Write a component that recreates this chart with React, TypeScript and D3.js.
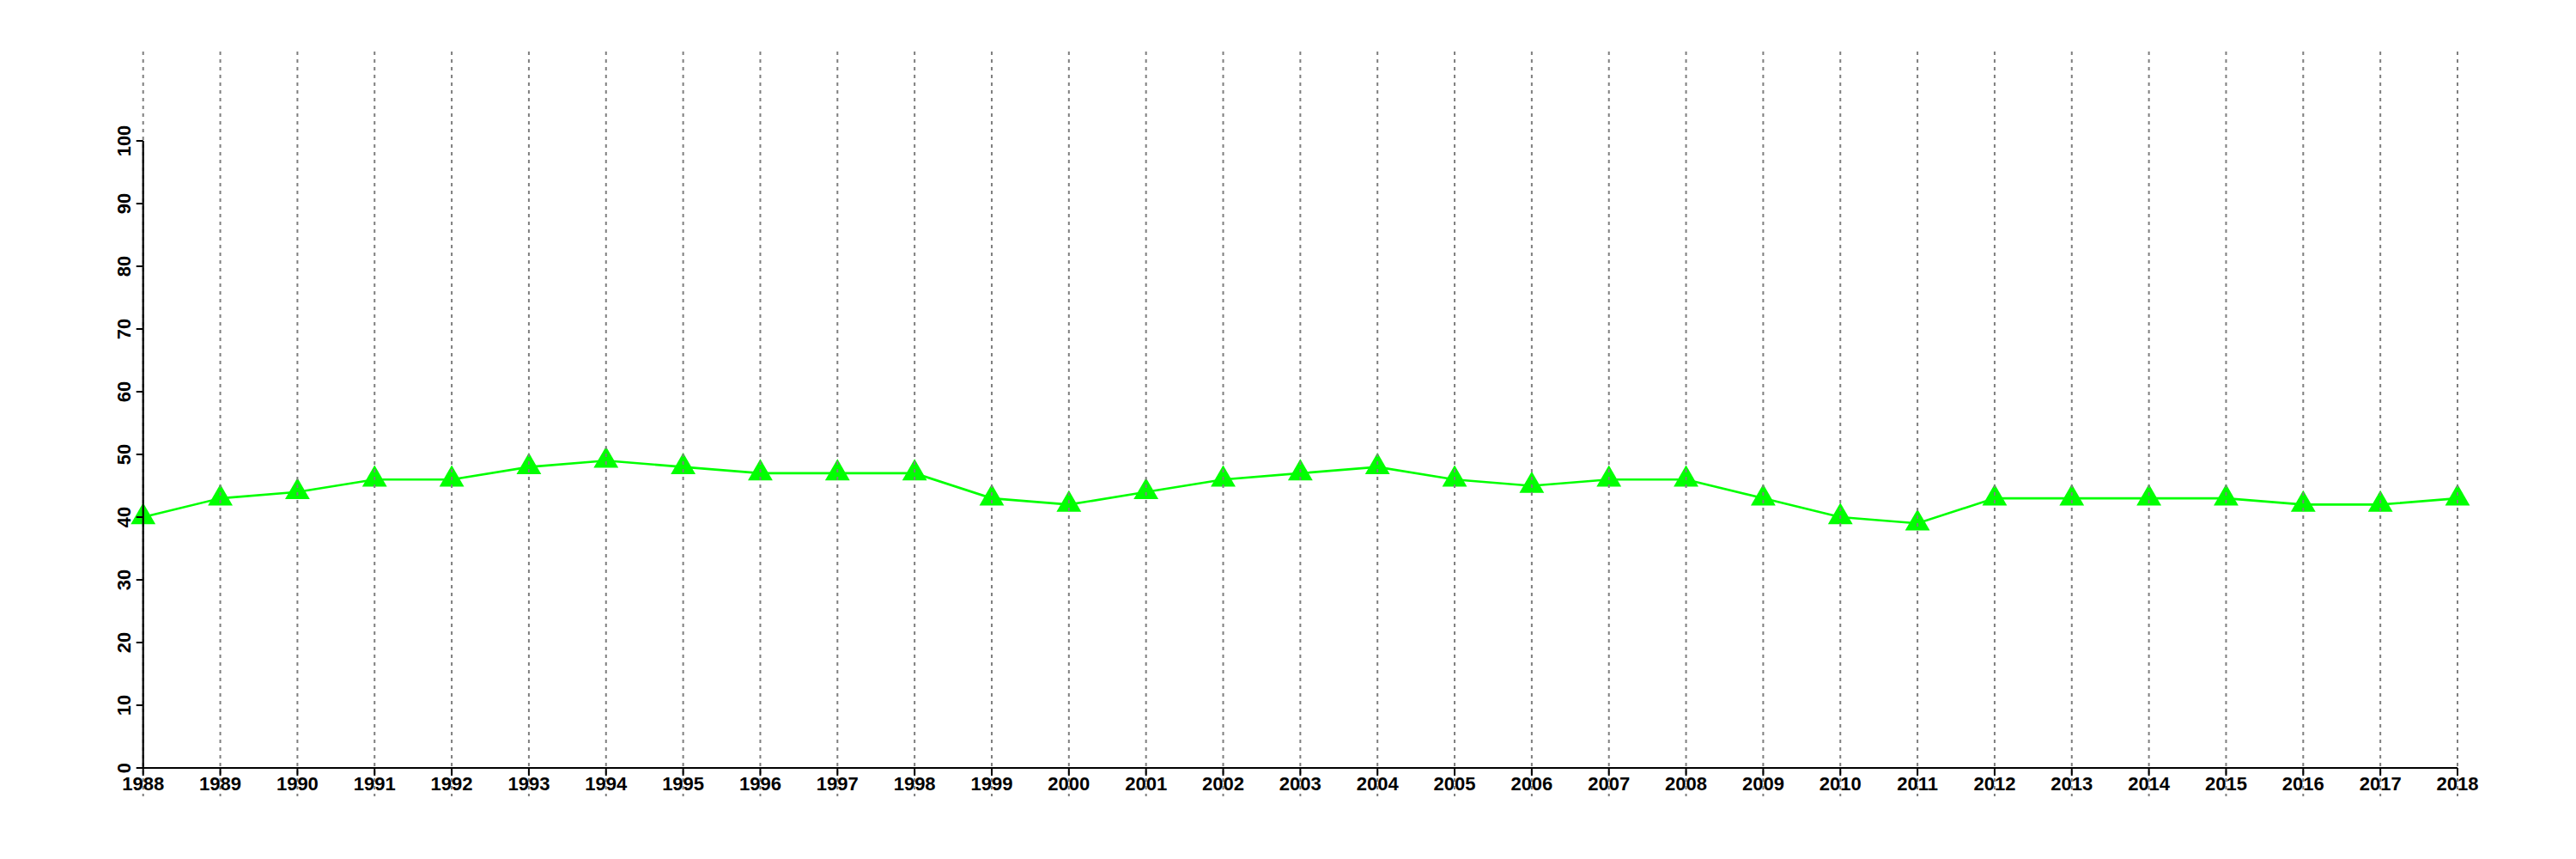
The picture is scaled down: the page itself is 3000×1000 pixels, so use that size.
import React from "react";
import * as d3 from "d3";

const years: number[] = [
  1988, 1989, 1990, 1991, 1992, 1993, 1994, 1995, 1996, 1997, 1998, 1999, 2000,
  2001, 2002, 2003, 2004, 2005, 2006, 2007, 2008, 2009, 2010, 2011, 2012, 2013,
  2014, 2015, 2016, 2017, 2018,
];
const values: number[] = [
  40, 43, 44, 46, 46, 48, 49, 48, 47, 47, 47, 43, 42, 44, 46, 47, 48, 46, 45, 46,
  46, 43, 40, 39, 43, 43, 43, 43, 42, 42, 43,
];
const yTicks: number[] = [0, 10, 20, 30, 40, 50, 60, 70, 80, 90, 100];

const W = 3000;
const H = 1000;
const X0 = 166.7;
const X1 = 2862;
const Y0 = 894;
const Y1 = 164;
const GRID_TOP = 60;
const GRID_BOTTOM = 927;
const FONT = "'Liberation Sans', Arial, Helvetica, sans-serif";

export default function App() {
  const x = d3.scaleLinear().domain([1988, 2018]).range([X0, X1]);
  const y = d3.scaleLinear().domain([0, 100]).range([Y0, Y1]);
  const data = years.map((yr, i) => ({ yr, v: values[i] }));
  const line = d3
    .line<{ yr: number; v: number }>()
    .x((d) => x(d.yr))
    .y((d) => y(d.v));
  const tri = d3.symbol().type(d3.symbolTriangle).size(360)() as string;

  return (
    <svg
      width={W}
      height={H}
      style={{ position: "absolute", left: 0, top: 0, background: "#fff" }}
    >
      <path d={line(data) as string} fill="none" stroke="#00ff00" strokeWidth={2.6} />
      {data.map((d) => (
        <path
          key={d.yr}
          d={tri}
          transform={`translate(${x(d.yr)},${y(d.v)})`}
          fill="#00ff00"
        />
      ))}
      {years.map((yr) => (
        <line
          key={"g" + yr}
          x1={x(yr)}
          x2={x(yr)}
          y1={GRID_TOP}
          y2={GRID_BOTTOM}
          stroke="#7f7f7f"
          strokeWidth={2}
          strokeDasharray="4,5"
        />
      ))}
      {/* axes */}
      <line x1={X0} x2={X1} y1={Y0} y2={Y0} stroke="#000" strokeWidth={2.2} />
      <line x1={X0} x2={X0} y1={Y0} y2={Y1} stroke="#000" strokeWidth={2.2} />
      {years.map((yr) => (
        <g key={"xt" + yr}>
          <line x1={x(yr)} x2={x(yr)} y1={Y0} y2={Y0 + 9} stroke="#000" strokeWidth={2} />
          <text
            x={x(yr)}
            y={920}
            textAnchor="middle"
            fontFamily={FONT}
            fontWeight="bold"
            fontSize={22}
            fill="#000"
          >
            {yr}
          </text>
        </g>
      ))}
      {yTicks.map((t) => (
        <g key={"yt" + t}>
          <line x1={X0 - 8} x2={X0} y1={y(t)} y2={y(t)} stroke="#000" strokeWidth={2} />
          <text
            transform={`translate(${152},${y(t)}) rotate(-90)`}
            textAnchor="middle"
            fontFamily={FONT}
            fontWeight="bold"
            fontSize={22}
            fill="#000"
          >
            {t}
          </text>
        </g>
      ))}
    </svg>
  );
}
